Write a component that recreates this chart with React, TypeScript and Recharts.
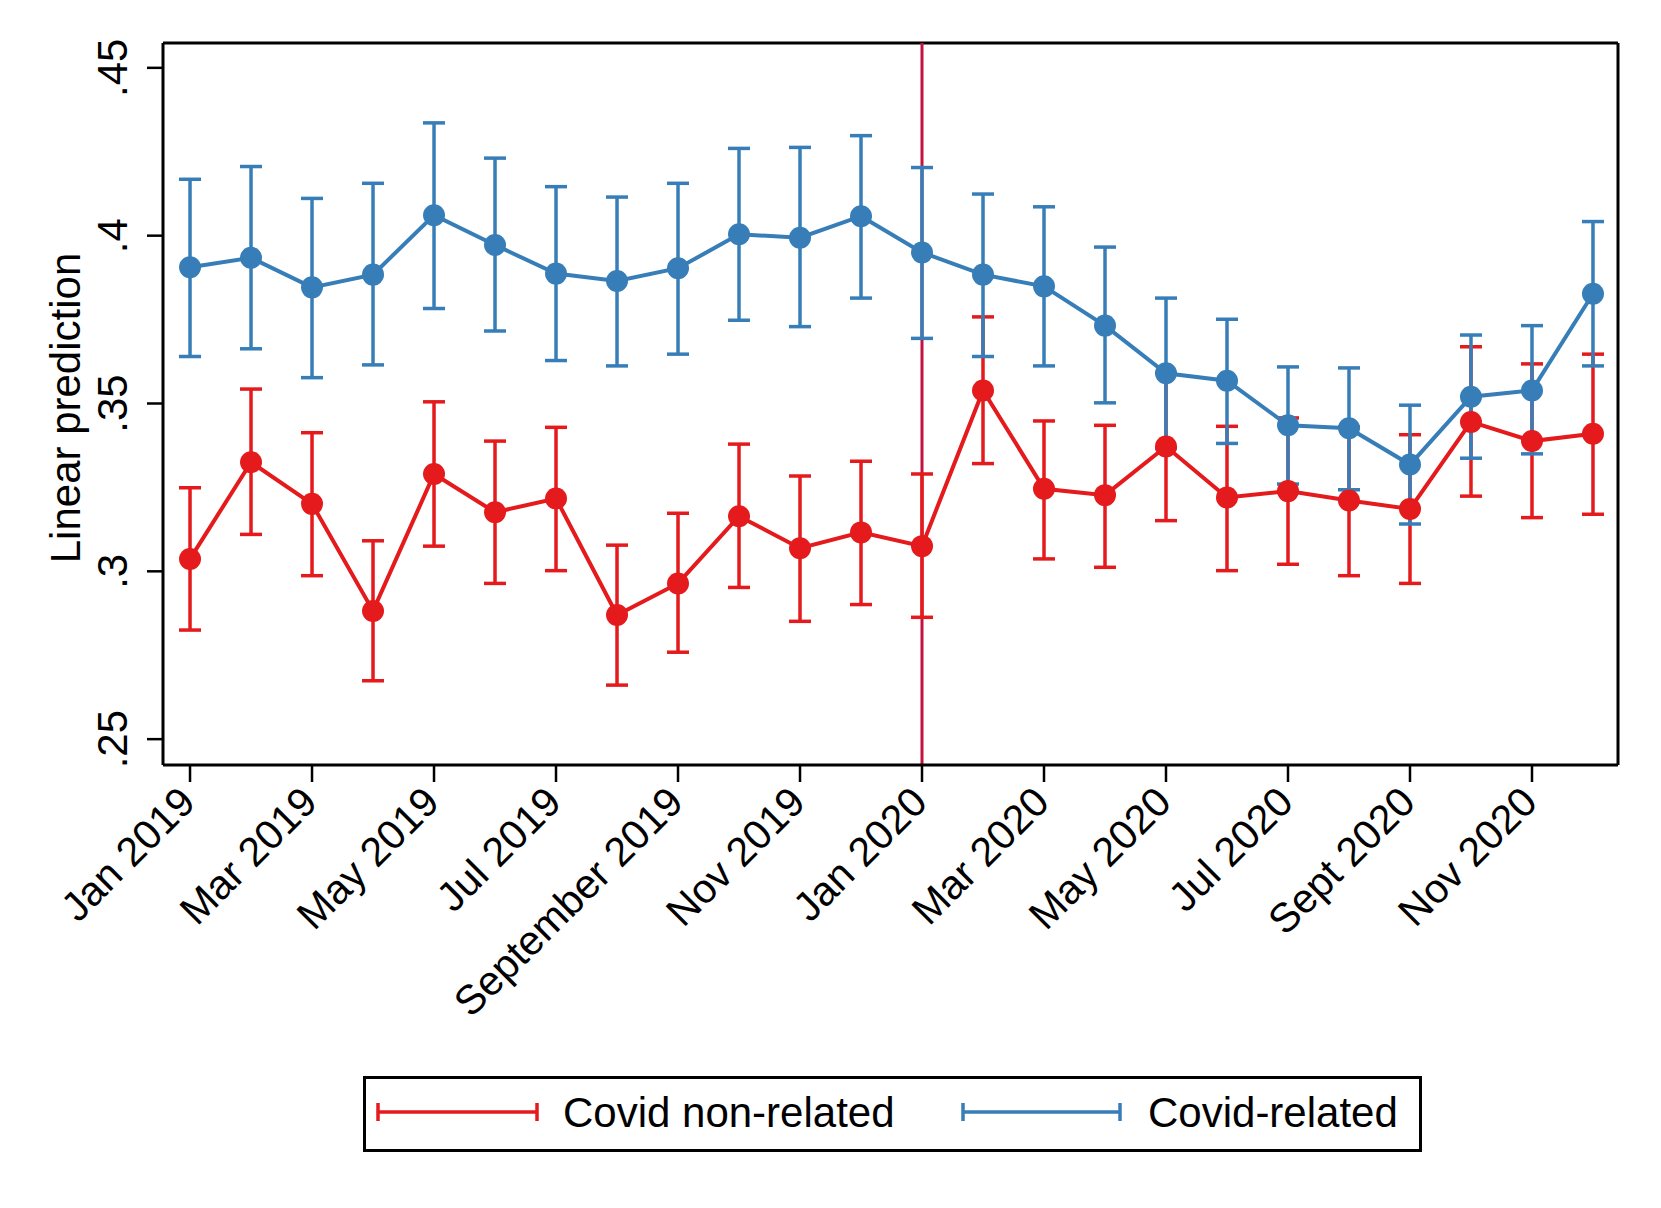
import React from 'react';
import { ComposedChart, Line, XAxis, YAxis, ErrorBar, ReferenceLine, Legend } from 'recharts';

const FONT = '"Liberation Sans", Arial, Helvetica, sans-serif';
const RED = '#E41A1C';
const BLUE = '#377EB8';
const VLINE = '#C3123F';

const monthIndex = [0, 1, 2, 3, 4, 5, 6, 7, 8, 9, 10, 11, 12, 13, 14, 15, 16, 17, 18, 19, 20, 21, 22, 23];
const xTickValues = [0, 2, 4, 6, 8, 10, 12, 14, 16, 18, 20, 22];
const xTickLabels = [
  'Jan 2019', 'Mar 2019', 'May 2019', 'Jul 2019', 'September 2019', 'Nov 2019',
  'Jan 2020', 'Mar 2020', 'May 2020', 'Jul 2020', 'Sept 2020', 'Nov 2020',
];
const yTickValues = [0.25, 0.3, 0.35, 0.4, 0.45];
const yTickLabels = ['.25', '.3', '.35', '.4', '.45'];

const nonRelatedMean = [0.3037, 0.3325, 0.3201, 0.2882, 0.329, 0.3176, 0.3217, 0.287, 0.2964, 0.3164, 0.3069, 0.3116,
  0.3075, 0.3539, 0.3246, 0.3227, 0.3372, 0.322, 0.3239, 0.3211, 0.3186, 0.3445, 0.3388, 0.341];
const nonRelatedLow = [0.2825, 0.311, 0.2987, 0.2674, 0.3075, 0.2964, 0.3002, 0.2661, 0.2759, 0.2952, 0.2851, 0.2901,
  0.2863, 0.3321, 0.3037, 0.3012, 0.3151, 0.3002, 0.3021, 0.2987, 0.2964, 0.3224, 0.316, 0.317];
const nonRelatedHigh = [0.3249, 0.3543, 0.3413, 0.3091, 0.3505, 0.3388, 0.3429, 0.3078, 0.3173, 0.3379, 0.3284, 0.3328,
  0.329, 0.3758, 0.3448, 0.3435, 0.359, 0.3432, 0.3457, 0.343, 0.3407, 0.3669, 0.3618, 0.3647];

const relatedMean = [0.3906, 0.3934, 0.3846, 0.3884, 0.4061, 0.3972, 0.3887, 0.3865, 0.3903, 0.4004, 0.3994, 0.4058,
  0.395, 0.3884, 0.3849, 0.3732, 0.359, 0.3568, 0.3435, 0.3426, 0.3318, 0.352, 0.3539, 0.3827];
const relatedLow = [0.364, 0.3663, 0.3577, 0.3615, 0.3783, 0.3716, 0.3628, 0.3612, 0.3647, 0.3748, 0.3729, 0.3814,
  0.3694, 0.364, 0.3612, 0.3502, 0.3366, 0.3381, 0.326, 0.3243, 0.3141, 0.3337, 0.335, 0.3612];
const relatedHigh = [0.4168, 0.4206, 0.4111, 0.4156, 0.4336, 0.4231, 0.4146, 0.4115, 0.4156, 0.426, 0.4263, 0.4298,
  0.4203, 0.4124, 0.4086, 0.3966, 0.3814, 0.3751, 0.3609, 0.3606, 0.3495, 0.3704, 0.3732, 0.4042];

const data = monthIndex.map((idx, i) => ({
  idx,
  nonRel: nonRelatedMean[i],
  nonRelErr: [nonRelatedMean[i] - nonRelatedLow[i], nonRelatedHigh[i] - nonRelatedMean[i]],
  rel: relatedMean[i],
  relErr: [relatedMean[i] - relatedLow[i], relatedHigh[i] - relatedMean[i]],
}));

const XTick = (props: any) => {
  const { x, y, payload } = props;
  const i = xTickValues.indexOf(payload.value);
  const label = i >= 0 ? xTickLabels[i] : '';
  const tx = x - 3;
  const ty = y + 12;
  return (
    <text x={tx} y={ty} dy="0.36em" textAnchor="end" transform={`rotate(-45, ${tx}, ${ty})`}
      fontSize={41} fontFamily={FONT} fill="#000">{label}</text>
  );
};

const YTick = (props: any) => {
  const { x, y, payload } = props;
  const i = yTickValues.findIndex((v) => Math.abs(v - payload.value) < 1e-9);
  const label = i >= 0 ? yTickLabels[i] : '';
  const tx = x - 20;
  return (
    <text x={tx} y={y} textAnchor="middle" transform={`rotate(-90, ${tx}, ${y})`}
      fontSize={42} fontFamily={FONT} fill="#000">{label}</text>
  );
};

const YTitle = (props: any) => {
  const vb = props.viewBox || { x: 55, y: 35, width: 100, height: 722 };
  const tx = vb.x + 17;
  const ty = vb.y + vb.height / 2 + 4;
  return (
    <text x={tx} y={ty} textAnchor="middle" transform={`rotate(-90, ${tx}, ${ty})`}
      fontSize={42} fontFamily={FONT} fill="#000">Linear prediction</text>
  );
};

const LegendBox = () => (
  <svg width={1059} height={76} style={{ display: 'block' }}>
    <rect x={1.5} y={1.5} width={1056} height={73} fill="#fff" stroke="#000" strokeWidth={3} />
    <line x1={15} x2={174} y1={36} y2={36} stroke={RED} strokeWidth={3.5} />
    <line x1={15} x2={15} y1={27} y2={45} stroke={RED} strokeWidth={3.5} />
    <line x1={174} x2={174} y1={27} y2={45} stroke={RED} strokeWidth={3.5} />
    <text x={200} y={36} dy="0.36em" fontSize={42} fontFamily={FONT} fill="#000">Covid non-related</text>
    <line x1={600} x2={757} y1={36} y2={36} stroke={BLUE} strokeWidth={3.5} />
    <line x1={600} x2={600} y1={27} y2={45} stroke={BLUE} strokeWidth={3.5} />
    <line x1={757} x2={757} y1={27} y2={45} stroke={BLUE} strokeWidth={3.5} />
    <text x={785} y={36} dy="0.36em" fontSize={42} fontFamily={FONT} fill="#000">Covid-related</text>
  </svg>
);

const X_DOMAIN: [number, number] = [-0.443, 23.41];
const Y_DOMAIN: [number, number] = [0.2423, 0.4574];

export default function App() {
  return (
    <div style={{ width: 1645, height: 1192, fontFamily: FONT }}>
      <ComposedChart width={1645} height={1192} data={data}
        margin={{ top: 35, right: 35, left: 55, bottom: 315 }}>
        <XAxis dataKey="idx" type="number" domain={X_DOMAIN} ticks={xTickValues} allowDataOverflow
          height={120} tickSize={17} tickMargin={0} interval={0}
          axisLine={{ stroke: '#000', strokeWidth: 3 }} tickLine={{ stroke: '#000', strokeWidth: 2.5 }}
          tick={<XTick />} />
        <YAxis type="number" domain={Y_DOMAIN} ticks={yTickValues} allowDataOverflow width={100}
          tickSize={16} tickMargin={0} interval={0}
          axisLine={{ stroke: '#000', strokeWidth: 3 }} tickLine={{ stroke: '#000', strokeWidth: 2.5 }}
          tick={<YTick />} label={<YTitle />} />
        <ReferenceLine y={Y_DOMAIN[1]} stroke="#000" strokeWidth={3} ifOverflow="visible" />
        <ReferenceLine x={X_DOMAIN[1]} stroke="#000" strokeWidth={3} ifOverflow="visible" />
        <ReferenceLine x={12} stroke={VLINE} strokeWidth={3} />
        <Line dataKey="nonRel" name="Covid non-related" stroke={RED} strokeWidth={4}
          dot={{ r: 11, fill: RED, stroke: RED, strokeWidth: 0 }} activeDot={false} isAnimationActive={false}>
          <ErrorBar dataKey="nonRelErr" direction="y" width={11} strokeWidth={3.5} stroke={RED} />
        </Line>
        <Line dataKey="rel" name="Covid-related" stroke={BLUE} strokeWidth={4}
          dot={{ r: 11, fill: BLUE, stroke: BLUE, strokeWidth: 0 }} activeDot={false} isAnimationActive={false}>
          <ErrorBar dataKey="relErr" direction="y" width={11} strokeWidth={3.5} stroke={BLUE} />
        </Line>
        <Legend layout="horizontal" verticalAlign="middle" align="center"
          wrapperStyle={{ left: 355, top: 1068, width: 1059, height: 76 }}
          content={() => <LegendBox />} />
      </ComposedChart>
    </div>
  );
}
